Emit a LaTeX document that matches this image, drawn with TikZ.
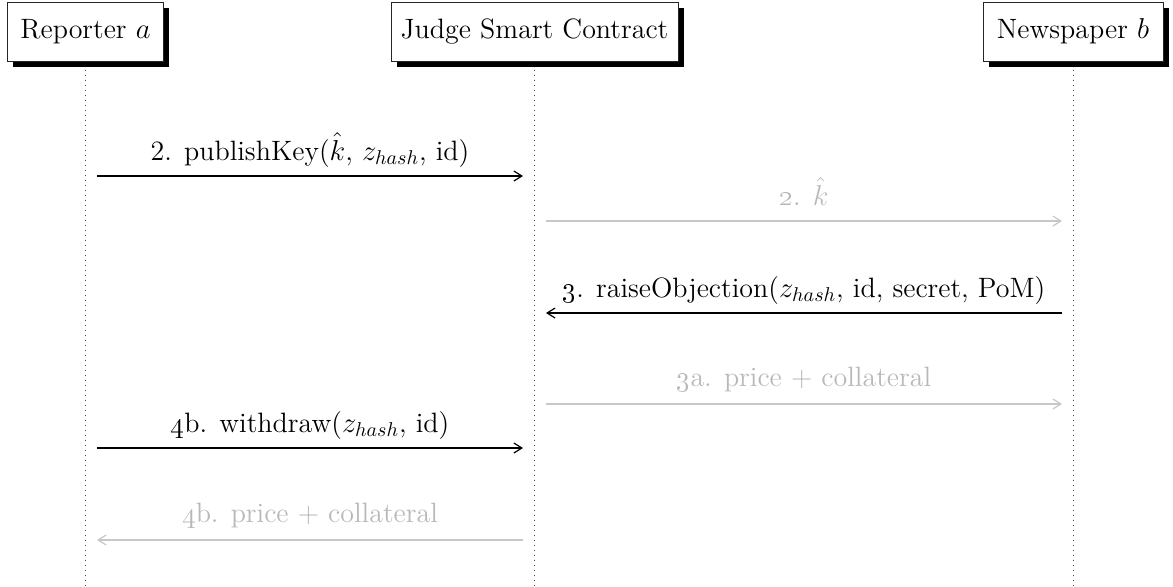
\documentclass[tikz,border=0pt]{standalone}
\usetikzlibrary{arrows.meta,shadows}
\begin{document}
\begin{tikzpicture}[x=0.5pt,y=-0.5pt,
  every node/.style={font=\fontsize{14}{17}\selectfont},
  actor/.style={draw=black!85, line width=0.5pt, fill=white,
    minimum height=29.5pt, inner sep=0pt,
    drop shadow={shadow xshift=2.75pt, shadow yshift=-2.75pt, fill=black, opacity=1}},
  lifeline/.style={dotted, line width=0.5pt, black!70},
  msg/.style={line width=0.6pt, -{Straight Barb[length=4pt,width=5pt]}},
  faint/.style={msg, draw=black!22},
  lbl/.style={anchor=base, yshift=8pt},
  faintlbl/.style={lbl, text=black!28}
]
\useasboundingbox (0,0) rectangle (1173,586);

% participants
\node[actor, minimum width=78pt]    (rep)   at (85.5,31.5) {Reporter $a$};
\node[actor, minimum width=143.5pt] (judge) at (534.5,31.5) {Judge Smart Contract};
\node[actor, minimum width=90pt]    (news)  at (1073,31.5) {Newspaper $b$};

% lifelines
\coordinate (bot) at (0,586);
\draw[lifeline] ([yshift=-4pt]rep.south)   -- (rep.south |- bot);
\draw[lifeline] ([yshift=-4pt]judge.south) -- (judge.south |- bot);
\draw[lifeline] ([yshift=-4pt]news.south)  -- (news.south |- bot);

% message end points
\coordinate (r1) at (97,176);   \coordinate (j1) at (523,176);
\coordinate (j2) at (546,221);  \coordinate (n2) at (1062,221);
\coordinate (n3) at (1062,313); \coordinate (j3) at (546,313);
\coordinate (j4) at (546,404);  \coordinate (n4) at (1062,404);
\coordinate (r5) at (97,448);   \coordinate (j5) at (523,448);
\coordinate (j6) at (523,540);  \coordinate (r6) at (97,540);

% messages
\draw[msg] (r1) -- node[lbl]
  {2. publishKey($\hat{k}$, $z_{hash}$, id)} (j1);
\draw[faint] (j2) -- node[faintlbl]
  {\oldstylenums{2}. $\hat{k}$} (n2);
\draw[msg] (n3) -- node[lbl]
  {\oldstylenums{3}. raiseObjection($z_{hash}$, id, secret, PoM)} (j3);
\draw[faint] (j4) -- node[faintlbl, yshift=1pt]
  {\oldstylenums{3}a. price + collateral} (n4);
\draw[msg] (r5) -- node[lbl]
  {\oldstylenums{4}b. withdraw($z_{hash}$, id)} (j5);
\draw[faint] (j6) -- node[faintlbl, yshift=1pt]
  {\oldstylenums{4}b. price + collateral} (r6);
\end{tikzpicture}
\end{document}
